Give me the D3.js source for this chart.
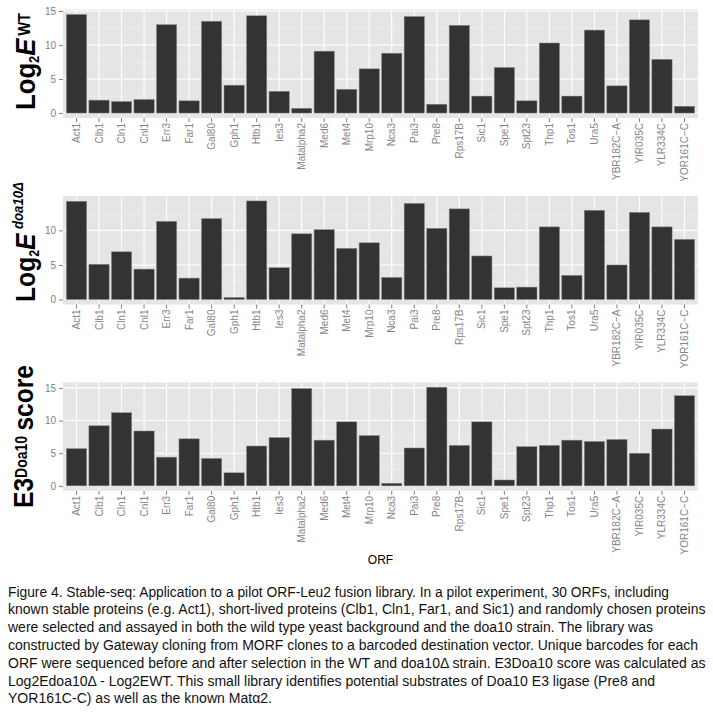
<!DOCTYPE html>
<html>
<head>
<meta charset="utf-8">
<script src="https://cdn.jsdelivr.net/npm/d3@7"></script>
<style>
body { margin: 0; background: #fff; }
svg { display: block; font-family: "Liberation Sans", Arial, sans-serif; }
</style>
</head>
<body>
<script>
// ORFs on the x axis (same order in every panel)
const orfs = ["Act1", "Clb1", "Cln1", "Cnl1", "Err3", "Far1", "Gal80", "Gph1", "Htb1", "Ies3",
    "Matalpha2", "Med6", "Met4", "Mrp10", "Nca3", "Pai3", "Pre8", "Rps17B", "Sic1", "Spe1",
    "Spt23", "Thp1", "Tos1", "Ura5", "YBR182C\u2212A", "YIR035C", "YLR334C", "YOR161C\u2212C"];

// Log2 E in wild type
const log2WT = [14.5, 1.9, 1.7, 2.0, 13.0, 1.8, 13.5, 4.1, 14.3, 3.2,
    0.7, 9.1, 3.5, 6.5, 8.8, 14.2, 1.3, 12.9, 2.5, 6.7,
    1.8, 10.3, 2.5, 12.2, 4.0, 13.7, 7.9, 1.0];

// Log2 E in doa10 deletion
const log2Doa10 = [14.2, 5.1, 6.9, 4.4, 11.3, 3.1, 11.7, 0.3, 14.25, 4.6,
    9.5, 10.1, 7.4, 8.2, 3.2, 13.9, 10.3, 13.1, 6.3, 1.7,
    1.8, 10.5, 3.5, 12.9, 5.0, 12.6, 10.5, 8.7];

// E3 Doa10 score
const e3Score = [5.7, 9.2, 11.2, 8.4, 4.4, 7.2, 4.2, 2.0, 6.1, 7.4,
    14.9, 7.0, 9.8, 7.7, 0.4, 5.8, 15.1, 6.2, 9.8, 0.9,
    6.0, 6.2, 7.0, 6.8, 7.1, 5.0, 8.7, 13.8];

const yTicks = [0, 5, 10, 15];
const yMinor = [2.5, 7.5, 12.5];

const caption = [
    "Figure 4. Stable-seq: Application to a pilot ORF-Leu2 fusion library. In a pilot experiment, 30 ORFs, including",
    "known stable proteins (e.g. Act1), short-lived proteins (Clb1, Cln1, Far1, and Sic1) and randomly chosen proteins",
    "were selected and assayed in both the wild type yeast background and the doa10 strain. The library was",
    "constructed by Gateway cloning from MORF clones to a barcoded destination vector. Unique barcodes for each",
    "ORF were sequenced before and after selection in the WT and doa10\u0394 strain. E3Doa10 score was calculated as",
    "Log2Edoa10\u0394 - Log2EWT. This small library identifies potential substrates of Doa10 E3 ligase (Pre8 and",
    "YOR161C-C) as well as the known Mat\u03b12."
];
const captionEnds = [669, 705.5, 653, 698, 705.5, 655, 272];

const width = 713, height = 712;
const left = 63, right = 698;

const svg = d3.select("body").append("svg")
    .attr("width", width)
    .attr("height", height);

svg.append("rect").attr("width", width).attr("height", height).attr("fill", "#fff");

const x = d3.scaleBand()
    .domain(orfs)
    .range([left, right])
    .paddingInner(0.1)
    .paddingOuter(0.15);

const panels = [
    {values: log2WT, top: 9.5, bottom: 118},
    {values: log2Doa10, top: 196, bottom: 304.5},
    {values: e3Score, top: 382.3, bottom: 490.8}
];

panels.forEach(p => {
    const vmax = d3.max(p.values);
    const pad = vmax * 0.05;
    const y = d3.scaleLinear().domain([-pad, vmax + pad]).range([p.bottom, p.top]);
    const g = svg.append("g");

    g.append("rect")
        .attr("x", left).attr("y", p.top)
        .attr("width", right - left).attr("height", p.bottom - p.top)
        .attr("fill", "#e5e5e5");

    g.selectAll(".minor")
        .data(yMinor.filter(v => v <= vmax + pad))
        .enter().append("line")
        .attr("x1", left).attr("x2", right)
        .attr("y1", d => y(d)).attr("y2", d => y(d))
        .attr("stroke", "#f2f2f2").attr("stroke-width", 0.6);

    g.selectAll(".major")
        .data(yTicks.filter(v => v <= vmax + pad))
        .enter().append("line")
        .attr("x1", left).attr("x2", right)
        .attr("y1", d => y(d)).attr("y2", d => y(d))
        .attr("stroke", "#fff").attr("stroke-width", 1.1);

    g.selectAll(".vgrid")
        .data(orfs)
        .enter().append("line")
        .attr("x1", d => x(d) + x.bandwidth() / 2).attr("x2", d => x(d) + x.bandwidth() / 2)
        .attr("y1", p.top).attr("y2", p.bottom)
        .attr("stroke", "#fff").attr("stroke-width", 1.1);

    g.selectAll(".bar")
        .data(orfs)
        .enter().append("rect")
        .attr("x", d => x(d))
        .attr("width", x.bandwidth())
        .attr("y", (d, i) => y(p.values[i]))
        .attr("height", (d, i) => y(0) - y(p.values[i]))
        .attr("fill", "#333333")
        .attr("stroke", "#8c8c8c")
        .attr("stroke-width", 0.5);

    const ya = g.append("g")
        .attr("transform", "translate(" + left + ",0)")
        .call(d3.axisLeft(y).tickValues(yTicks.filter(v => v <= vmax + pad)).tickSize(4).tickPadding(3));
    ya.select(".domain").remove();
    ya.selectAll("line").attr("stroke", "#7f7f7f");
    ya.selectAll("text").attr("fill", "#808080").attr("font-size", 10).attr("font-family", "Liberation Sans, Arial, sans-serif");

    const xa = g.append("g")
        .attr("transform", "translate(0," + p.bottom + ")")
        .call(d3.axisBottom(x).tickSize(4).tickPadding(2));
    xa.select(".domain").remove();
    xa.selectAll("line").attr("stroke", "#7f7f7f");
    xa.selectAll("text")
        .attr("fill", "#858585")
        .attr("font-size", 10)
        .attr("font-family", "Liberation Sans, Arial, sans-serif")
        .attr("text-anchor", "end")
        .attr("transform", "rotate(-90)")
        .attr("x", -5)
        .attr("y", 0)
        .attr("dy", "0.35em");
});

// y axis titles
const t1 = svg.append("text")
    .attr("transform", "translate(35,110) rotate(-90)")
    .attr("font-weight", "bold").attr("font-size", 28)
    .attr("textLength", 97).attr("lengthAdjust", "spacingAndGlyphs");
t1.append("tspan").text("Log");
t1.append("tspan").attr("font-size", 14).attr("dy", 4).text("2");
t1.append("tspan").attr("font-style", "italic").attr("dy", -4).text("E");
t1.append("tspan").attr("font-size", 16).attr("dx", 3).attr("dy", -5).text("WT");

const t2 = svg.append("text")
    .attr("transform", "translate(35,302) rotate(-90)")
    .attr("font-weight", "bold").attr("font-size", 28)
    .attr("textLength", 120).attr("lengthAdjust", "spacingAndGlyphs");
t2.append("tspan").text("Log");
t2.append("tspan").attr("font-size", 14).attr("dy", 4).text("2");
t2.append("tspan").attr("font-style", "italic").attr("dy", -4).text("E");
t2.append("tspan").attr("font-size", 15).attr("font-style", "italic").attr("dx", 5).attr("dy", -12).text("doa10\u0394");

const t3 = svg.append("text")
    .attr("transform", "translate(33,508) rotate(-90)")
    .attr("font-weight", "bold").attr("font-size", 28)
    .attr("textLength", 143).attr("lengthAdjust", "spacingAndGlyphs");
t3.append("tspan").text("E3");
t3.append("tspan").attr("font-size", 16).attr("dy", -6).text("Doa10");
t3.append("tspan").attr("dx", 6).attr("dy", 6).text("score");

// x axis title
svg.append("text")
    .attr("x", (left + right) / 2).attr("y", 564)
    .attr("text-anchor", "middle")
    .attr("font-size", 12)
    .text("ORF");

// caption
svg.selectAll(".cap")
    .data(caption)
    .enter().append("text")
    .attr("x", 8)
    .attr("y", (d, i) => 596.7 + i * 17.78)
    .attr("font-size", 14)
    .attr("fill", "#111")
    .attr("textLength", (d, i) => captionEnds[i] - 8)
    .attr("lengthAdjust", "spacingAndGlyphs")
    .text(d => d);
</script>
</body>
</html>
